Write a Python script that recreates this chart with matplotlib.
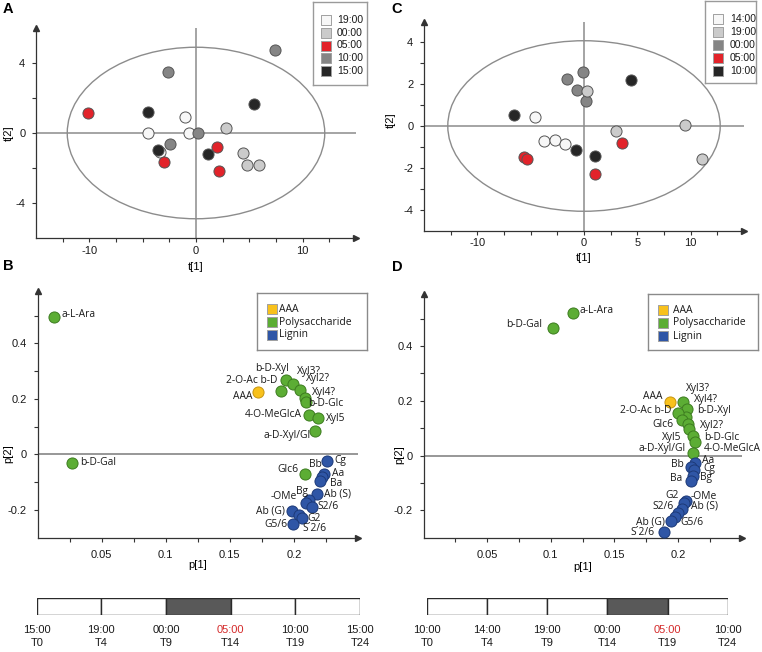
import matplotlib
matplotlib.use("Agg")
import matplotlib.pyplot as plt
from matplotlib.patches import Ellipse

plt.rcParams['font.family'] = ['Liberation Sans', 'DejaVu Sans']
plt.rcParams['axes.unicode_minus'] = False

# ---- score plot A (first run, 15:00 start) ----
a_times = ['19:00', '00:00', '05:00', '10:00', '15:00']
a_group = ['19:00'] * 4 + ['00:00'] * 4 + ['05:00'] * 4 + ['10:00'] * 4 + ['15:00'] * 4
a_t1 = [-4.5, -1.0, -0.63, -3.35,
        2.82, 4.44, 4.79, 5.88,
        -10.08, -3.0, 2.0, 2.16,
        -2.63, -2.47, 0.22, 7.45,
        -4.54, -3.54, 1.1, 5.41]
a_t2 = [0.0, 0.91, 0.0, -1.1,
        0.29, -1.14, -1.81, -1.81,
        1.14, -1.66, -0.82, -2.15,
        3.5, -0.61, 0.0, 4.76,
        1.2, -0.95, -1.18, 1.68]

# ---- score plot C (second run, 10:00 start) ----
c_times = ['14:00', '19:00', '00:00', '05:00', '10:00']
c_group = ['14:00'] * 4 + ['00:00'] * 4 + ['19:00'] * 4 + ['05:00'] * 4 + ['10:00'] * 4
c_t1 = [-4.64, -3.76, -2.76, -1.82,
        -1.6, -0.09, -0.63, 0.22,
        0.31, 3.0, 9.43, 11.1,
        -5.67, -5.33, 1.0, 3.6,
        -6.55, 4.39, -0.72, 1.0]
c_t2 = [0.43, -0.74, -0.69, -0.88,
        2.27, 2.58, 1.71, 1.2,
        1.68, -0.24, 0.06, -1.58,
        -1.48, -1.58, -2.28, -0.81,
        0.51, 2.19, -1.17, -1.45]

time_colors = {'14:00': '#f7f7f7', '19:00': '#f7f7f7', '00:00': '#cbcbcb',
               '05:00': '#e2232a', '10:00': '#858585', '15:00': '#262626'}
c_colors = {'14:00': '#f7f7f7', '19:00': '#cbcbcb', '00:00': '#858585',
            '05:00': '#e2232a', '10:00': '#262626'}

# ---- loading plot B ----
b_names = ['a-L-Ara', 'b-D-Gal', 'AAA', 'b-D-Xyl', 'Xyl3?', 'Xyl2?', 'Xyl4?', 'b-D-Glc',
           '2-O-Ac b-D', '4-O-MeGlcA', 'Xyl5', 'a-D-Xyl/Gl', 'Glc6',
           'Cg', 'Aa', 'Bb', 'Ba', 'Ab (S)', 'Bg', '-OMe', 'S2/6', 'Ab (G)', 'G2', 'S\u00b42/6', 'G5/6']
b_p1 = [0.013, 0.027, 0.172, 0.1936, 0.1993, 0.2047, 0.2086, 0.2097,
        0.1897, 0.2117, 0.2187, 0.2164, 0.2086,
        0.2255, 0.2234, 0.2216, 0.2203, 0.2182, 0.2117, 0.2097, 0.2143, 0.1988, 0.204, 0.206, 0.1996]
b_p2 = [0.496, -0.032, 0.226, 0.268, 0.252, 0.232, 0.202, 0.190,
        0.228, 0.142, 0.132, 0.084, -0.071,
        -0.024, -0.071, -0.081, -0.095, -0.144, -0.165, -0.177, -0.189, -0.203, -0.219, -0.231, -0.251]
b_class = ['Polysaccharide', 'Polysaccharide', 'AAA'] + ['Polysaccharide'] * 10 + ['Lignin'] * 12

# ---- loading plot D ----
d_names = ['a-L-Ara', 'b-D-Gal', 'AAA', 'Xyl3?', 'Xyl4?', 'b-D-Xyl', '2-O-Ac b-D', 'Glc6',
           'Xyl2?', 'Xyl5', 'b-D-Glc', '4-O-MeGlcA', 'a-D-Xyl/Gl',
           'Aa', 'Bb', 'Cg', 'Bg', 'Ba', '-OMe', 'G2', 'Ab (S)', 'S2/6', 'G5/6', 'Ab (G)', 'S\u00b42/6']
d_p1 = [0.1172, 0.1017, 0.1937, 0.2042, 0.2073, 0.2063, 0.1998, 0.2029,
        0.2081, 0.2089, 0.2115, 0.2134, 0.212,
        0.2134, 0.2102, 0.2126, 0.212, 0.21, 0.2063, 0.2047, 0.2029, 0.2002, 0.1976, 0.1945, 0.189]
d_p2 = [0.52, 0.467, 0.195, 0.197, 0.169, 0.142, 0.157, 0.130,
        0.116, 0.096, 0.072, 0.051, 0.011,
        -0.028, -0.040, -0.052, -0.074, -0.091, -0.164, -0.174, -0.196, -0.21, -0.223, -0.238, -0.28]
d_class = ['Polysaccharide', 'Polysaccharide', 'AAA'] + ['Polysaccharide'] * 10 + ['Lignin'] * 12

classes = ['AAA', 'Polysaccharide', 'Lignin']
class_colors = {'AAA': '#f8c11c', 'Polysaccharide': '#5cad34', 'Lignin': '#2f56a6'}
class_edges = {'AAA': '#c69510', 'Polysaccharide': '#3d7c20', 'Lignin': '#1d3a78'}

# label placement (ha, dx px, dy px)
b_lab = {'a-L-Ara': ('left', 7, 2), 'b-D-Gal': ('left', 8, 1), 'AAA': ('right', -6, -5),
         'b-D-Xyl': ('right', 3, 11), 'Xyl3?': ('left', 4, 13), 'Xyl2?': ('left', 6, 11),
         'Xyl4?': ('left', 7, 6), 'b-D-Glc': ('left', 2, -2), '2-O-Ac b-D': ('right', -3, 11),
         '4-O-MeGlcA': ('right', -7, 0), 'Xyl5': ('left', 8, -1), 'a-D-Xyl/Gl': ('right', -4, -4),
         'Glc6': ('right', -6, 5), 'Cg': ('left', 8, 1), 'Aa': ('left', 8, 1), 'Bb': ('right', 0, 12),
         'Ba': ('left', 10, -3), 'Ab (S)': ('left', 7, 0), 'Bg': ('right', -1, 9),
         '-OMe': ('right', -9, 7), 'S2/6': ('left', 5, 0), 'Ab (G)': ('right', -7, 0),
         'G2': ('left', 8, -3), 'S\u00b42/6': ('left', 1, -10), 'G5/6': ('right', -6, 0)}
d_lab = {'a-L-Ara': ('left', 7, 3), 'b-D-Gal': ('right', -11, 3), 'AAA': ('right', -7, 6),
         'Xyl3?': ('left', 3, 13), 'Xyl4?': ('left', 7, 10), 'b-D-Xyl': ('left', 11, 6),
         '2-O-Ac b-D': ('right', -6, 2), 'Glc6': ('right', -8, -4), 'Xyl2?': ('left', 12, -2),
         'Xyl5': ('right', -8, -8), 'b-D-Glc': ('left', 11, -2), '4-O-MeGlcA': ('left', 9, -7),
         'a-D-Xyl/Gl': ('right', -8, 4), 'Aa': ('left', 7, 3), 'Bb': ('right', -7, 2),
         'Cg': ('left', 9, 1), 'Bg': ('left', 7, -2), 'Ba': ('right', -8, 2),
         '-OMe': ('left', 5, 4), 'G2': ('right', -5, 8), 'Ab (S)': ('left', 9, 3),
         'S2/6': ('right', -5, 7), 'G5/6': ('left', 5, -6), 'Ab (G)': ('right', -6, -1),
         'S\u00b42/6': ('right', -9, 0)}

# ---- sampling timelines ----
b_clock = ['15:00', '19:00', '00:00', '05:00', '10:00', '15:00']
b_samples = ['T0', 'T4', 'T9', 'T14', 'T19', 'T24']
b_dark = [0, 0, 1, 0, 0]
d_clock = ['10:00', '14:00', '19:00', '00:00', '05:00', '10:00']
d_samples = ['T0', 'T4', 'T9', 'T14', 'T19', 'T24']
d_dark = [0, 0, 0, 1, 0]

W, H = 762, 652
AX = '#333333'
fig = plt.figure(figsize=(W / 100, H / 100), dpi=100)


def box(l, t, r, b):
    return [l / W, 1 - b / H, (r - l) / W, (b - t) / H]


def fmt(v):
    return ('%g' % v)


def ticklabels(ticks, shown):
    return [fmt(v) if any(abs(v - s) < 1e-9 for s in shown) else '' for v in ticks]


def style_axes(ax, xpad, ypad):
    for s in ['top', 'right']:
        ax.spines[s].set_visible(False)
    for s in ['left', 'bottom']:
        ax.spines[s].set_color(AX)
        ax.spines[s].set_linewidth(0.9)
    ax.plot(1, 0, '>', color=AX, ms=4.5, transform=ax.transAxes, clip_on=False)
    ax.plot(0, 1, '^', color=AX, ms=4.5, transform=ax.transAxes, clip_on=False)
    ax.tick_params(direction='out', length=3.2, width=0.8, colors=AX,
                   labelcolor='#1a1a1a', labelsize=8)
    ax.tick_params(axis='x', pad=xpad)
    ax.tick_params(axis='y', pad=ypad)
    ax.patch.set_alpha(0)


def legend_box(rect, names, colors, sq_x, txt_x, y0, dy, font, fs, edge):
    l, t, r, b = rect
    lax = fig.add_axes(box(l, t, r, b))
    lax.set_xlim(0, r - l)
    lax.set_ylim(b - t, 0)
    lax.set_xticks([])
    lax.set_yticks([])
    for s in lax.spines.values():
        s.set_color(edge)
        s.set_linewidth(1)
    for i, n in enumerate(names):
        lax.scatter(sq_x, y0 + i * dy, marker='s', s=50, c=colors[n], edgecolors='#a0a0a0',
                    linewidths=0.7)
        lax.text(txt_x, y0 + i * dy, n, va='center', ha='left', fontsize=fs, family=font,
                 color='#1a1a1a')


def score_plot(rect, t1, t2, group, colors, ell, ylim, xshow, yt, yshow, xlc, ylc):
    ax = fig.add_axes(box(*rect))
    ax.set_xlim(-15, 15)
    ax.set_ylim(ylim)
    style_axes(ax, 2.5, 4.5)
    ax.axhline(0, color='#8c8c8c', lw=1.1, zorder=1)
    ax.axvline(0, color='#8c8c8c', lw=1.1, zorder=1)
    ax.add_patch(Ellipse((0, 0), 2 * ell[0], 2 * ell[1], fill=False, ec='#8c8c8c', lw=1, zorder=1))
    for x, y, g in zip(t1, t2, group):
        ax.scatter(x, y, s=64, c=colors[g], edgecolors='#555555', linewidths=0.7, zorder=3)
    xt = [-12.5 + 2.5 * i for i in range(11)]
    ax.set_xticks(xt)
    ax.set_xticklabels(ticklabels(xt, xshow))
    ax.set_yticks(yt)
    ax.set_yticklabels(ticklabels(yt, yshow))
    ax.set_xlabel('t[1]', fontsize=8)
    ax.set_ylabel('t[2]', fontsize=8)
    ax.xaxis.set_label_coords(*xlc)
    ax.yaxis.set_label_coords(*ylc)
    return ax


def loading_plot(rect, p1, p2, names, cls, lab, xlc, ylc):
    ax = fig.add_axes(box(*rect))
    ax.set_xlim(0, 0.25)
    ax.set_ylim(-0.3, 0.59)
    style_axes(ax, 5.5, 4.5)
    ax.axhline(0, color='#7a7a7a', lw=1.1, zorder=1)
    for x, y, n, c in zip(p1, p2, names, cls):
        ax.scatter(x, y, s=64, c=class_colors[c], edgecolors=class_edges[c], linewidths=0.7, zorder=3)
        ha, dx, dy = lab[n]
        ax.annotate(n, (x, y), xytext=(dx, dy), textcoords='offset pixels', ha=ha, va='center',
                    fontsize=7.4, family='Open Sans', color='#1a1a1a', zorder=4)
    xt = [0.025 * i for i in range(1, 10)]
    ax.set_xticks(xt)
    ax.set_xticklabels(ticklabels(xt, [0.05, 0.1, 0.15, 0.2]))
    yt = [-0.2 + 0.1 * i for i in range(8)]
    ax.set_yticks(yt)
    ax.set_yticklabels(ticklabels(yt, [-0.2, 0.0, 0.2, 0.4]))
    ax.set_xlabel('p[1]', fontsize=8)
    ax.set_ylabel('p[2]', fontsize=8)
    ax.xaxis.set_label_coords(*xlc)
    ax.yaxis.set_label_coords(*ylc)
    return ax


def timeline(rect, clock, samples, dark):
    ax = fig.add_axes(box(*rect))
    ax.set_xlim(0, len(dark))
    ax.set_ylim(0, 1)
    ax.axis('off')
    for i, d in enumerate(dark):
        ax.barh(0.5, 1, left=i, height=1, color='#595959' if d else 'white',
                edgecolor='#2a2a2a', linewidth=1)
    for i, (c, s) in enumerate(zip(clock, samples)):
        ax.text(i, -0.9, c, ha='center', va='center', fontsize=8,
                color='#d42a2a' if c == '05:00' else '#1a1a1a', clip_on=False)
        ax.text(i, -1.65, s, ha='center', va='center', fontsize=8, color='#1a1a1a', clip_on=False)


score_plot((36, 28, 356, 238), a_t1, a_t2, a_group, time_colors, (12.07, 4.9), (-6, 6),
           [-10, 0, 10], [-4, -2, 0, 2, 4], [-4, 0, 4], (0.5, -0.112), (-0.07, 0.5))
score_plot((424, 21.5, 744, 230.5), c_t1, c_t2, c_group, c_colors, (12.77, 4.08), (-5, 5),
           [-10, 0, 5, 10], [-4, -3, -2, -1, 0, 1, 2, 3, 4], [-4, -2, 0, 2, 4],
           (0.5, -0.11), (-0.088, 0.53))
loading_plot((37.5, 290.6, 358, 537.6), b_p1, b_p2, b_names, b_class, b_lab,
             (0.5, -0.09), (-0.075, 0.34))
loading_plot((423.6, 294, 741.6, 537.9), d_p1, d_p2, d_names, d_class, d_lab,
             (0.5, -0.098), (-0.06, 0.34))

legend_box((313, 2, 367, 85), a_times, time_colors, 12.5, 24, 18, 12.75, 'Liberation Sans', 7.5, '#9a9a9a')
legend_box((705, 1, 756, 83), c_times, c_colors, 13, 25, 17.5, 13.2, 'Liberation Sans', 7.5, '#9a9a9a')
legend_box((257, 293, 367, 350), classes, class_colors, 15, 22, 16, 13, 'Open Sans', 7.5, '#8a8a8a')
legend_box((648, 294, 758, 350), classes, class_colors, 15, 25, 16, 13, 'Open Sans', 7.5, '#8a8a8a')

timeline((36.7, 598, 360, 615), b_clock, b_samples, b_dark)
timeline((426.7, 598, 727.7, 615), d_clock, d_samples, d_dark)

for letter, x, y in [('A', 8, 9), ('C', 397, 9), ('B', 8, 266), ('D', 397, 267)]:
    fig.text(x / W, 1 - y / H, letter, ha='center', va='center', fontsize=10.5, fontweight='bold')

fig.savefig('out.png', dpi=100)
